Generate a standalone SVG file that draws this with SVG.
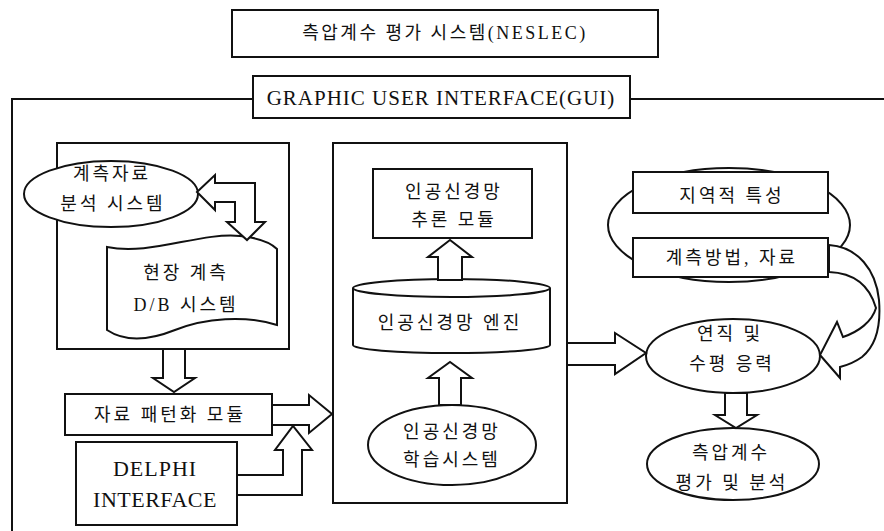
<svg xmlns="http://www.w3.org/2000/svg" width="884" height="531" viewBox="0 0 884 531">
<style>
.ln{fill:none;stroke:#111;stroke-width:2}
.bx{fill:#fff;stroke:#111;stroke-width:2}
.ar{fill:#fff;stroke:#111;stroke-width:2;stroke-linejoin:miter}
text{font-family:"Liberation Serif","Noto Sans CJK KR",serif;fill:#111;text-anchor:middle}
.k{font-size:18px;letter-spacing:3px}
.e{font-size:22px;letter-spacing:1px}
</style>
<rect width="884" height="531" fill="#fff"/>
<g id="title">
<rect class="bx" x="232" y="10" width="426" height="47"/>
<text x="445" y="39" style="font-size:18px;letter-spacing:2.5px">측압계수 평가 시스템(NESLEC)</text>
</g>
<g id="frame">
<path class="ln" d="M884,99 H630 M253,99 H12 V531"/>
</g>
<g id="gui">
<rect class="bx" x="253" y="76" width="377" height="42"/>
<text x="441" y="105" class="e" style="font-size:21px">GRAPHIC USER INTERFACE(GUI)</text>
</g>
<g id="left-panel"><rect class="bx" x="57" y="143" width="232" height="206"/></g>
<g id="analysis">
<ellipse class="bx" cx="111" cy="194" rx="87" ry="33"/>
<text x="112" y="180" class="k">계측자료</text>
<text x="113" y="210" class="k">분석 시스템</text>
</g>
<g id="db">
<path class="bx" d="M107,247 C150,256 200,232 240,236 C260,238 270,242 277,249 V325 C245,315 205,318 175,330 C150,340 125,342 107,330 Z"/>
<text x="186" y="279" class="k">현장 계측</text>
<text x="186" y="311" class="k">D/B 시스템</text>
</g>
<g id="pattern">
<rect class="bx" x="65" y="394" width="207" height="41"/>
<text x="170" y="421" class="k">자료 패턴화 모듈</text>
</g>
<g id="delphi">
<rect class="bx" x="76" y="442" width="161" height="83"/>
<text x="155" y="476" class="e">DELPHI</text>
<text x="155" y="507" class="e" style="letter-spacing:0.5px">INTERFACE</text>
</g>
<g id="mid-panel"><rect class="bx" x="333" y="143" width="234" height="360"/></g>
<g id="inference">
<rect class="bx" x="373" y="169" width="159" height="69"/>
<text x="454" y="198" class="k">인공신경망</text>
<text x="454" y="226" class="k">추론 모듈</text>
</g>
<g id="engine">
<path class="bx" d="M353,288 V345 A98.5,8 0 0 0 550,345 V288"/>
<ellipse class="bx" cx="451.5" cy="288" rx="98.5" ry="9"/>
<text x="450" y="329" class="k">인공신경망 엔진</text>
</g>
<g id="learning">
<ellipse class="bx" cx="452" cy="445" rx="84" ry="40"/>
<text x="452" y="438" class="k">인공신경망</text>
<text x="452" y="466" class="k">학습시스템</text>
</g>
<g id="region-group">
<ellipse class="ln" cx="729" cy="225" rx="121" ry="57"/>
</g>
<g id="regional">
<rect class="bx" x="633" y="172" width="195" height="41"/>
<text x="732" y="202" class="k">지역적 특성</text>
</g>
<g id="method">
<rect class="bx" x="633" y="238" width="195" height="39"/>
<text x="732" y="264" class="k">계측방법, 자료</text>
</g>
<g id="stress">
<ellipse class="bx" cx="733" cy="356" rx="87" ry="37"/>
<text x="730" y="340" class="k">연직 및</text>
<text x="732" y="370" class="k">수평 응력</text>
</g>
<g id="evaluation">
<ellipse class="bx" cx="733" cy="464" rx="86" ry="36"/>
<text x="731" y="459" class="k">측압계수</text>
<text x="732" y="489" class="k">평가 및 분석</text>
</g>
<g id="connectors">
<polygon class="ar" points="197,192 215,175 215,183 255,183 255,222 265,222 247,240 227,222 235,222 235,202 215,202 215,210"/>
<polygon class="ar" points="163,349 185,349 185,378 195,378 174,392 153,378 163,378"/>
<polygon class="ar" points="272,405 309,405 309,395 332,414 309,433 309,425 272,425"/>
<polygon class="ar" points="237,475 283,475 283,450 275,450 293,426 312,450 302,450 302,495 237,495"/>
<polygon class="ar" points="438,280 438,257 428,257 450,240 472,257 462,257 462,280"/>
<polygon class="ar" points="439,405 439,378 428,378 450,362 472,378 461,378 461,405"/>
<polygon class="ar" points="567,343 615,343 615,333 646,353 615,374 615,365 567,365"/>
<polygon class="ar" points="725,393 747,393 747,415 757,415 736,428 715,415 725,415"/>
<path class="ar" d="M829,245 C858,247 876,270 879,300 C881,325 877,345 862,357 C855,362 848,365 840,367 L840,378 L820,355 L837,322 L843,337 C858,332 872,322 876,308 C870,287 855,273 829,272 Z"/>
</g>
</svg>
